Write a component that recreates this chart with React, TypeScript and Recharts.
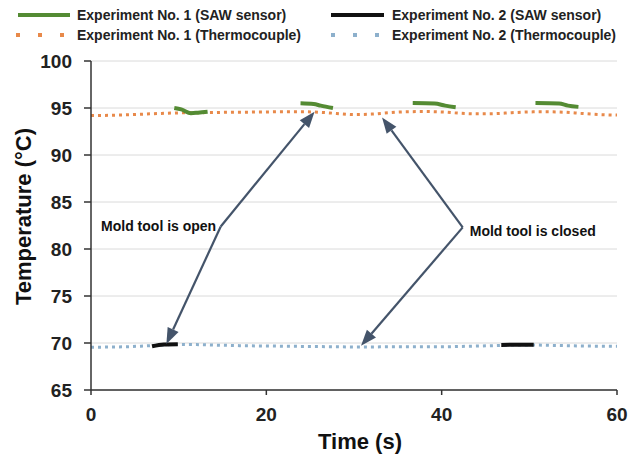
import React from 'react';
import { LineChart, Line, XAxis, YAxis, CartesianGrid, Legend, ReferenceLine, ReferenceDot } from 'recharts';

// ---- data ----
const tcTime = [0, 2, 4, 6, 8, 10, 12, 14, 16, 18, 20, 22, 24, 26, 28, 30, 32, 34, 36, 38, 40, 42, 44, 46, 48, 50, 52, 54, 56, 58, 60];
const tcExp1 = [94.2, 94.22, 94.28, 94.35, 94.42, 94.48, 94.5, 94.52, 94.55, 94.56, 94.58, 94.6, 94.6, 94.55, 94.42, 94.3, 94.35, 94.5, 94.6, 94.62, 94.58, 94.45, 94.38, 94.4, 94.5, 94.58, 94.6, 94.55, 94.42, 94.3, 94.25];
const tcExp2 = [69.55, 69.57, 69.6, 69.68, 69.78, 69.85, 69.83, 69.78, 69.74, 69.7, 69.68, 69.66, 69.64, 69.62, 69.6, 69.58, 69.58, 69.6, 69.6, 69.6, 69.6, 69.63, 69.67, 69.72, 69.78, 69.8, 69.76, 69.72, 69.68, 69.66, 69.65];

const sawExp1Time = [9.5, 10.3, 11.4, 12.2, 13.3, 18, 23.9, 25.4, 26.2, 27.6, 32, 36.7, 39.2, 40.4, 41.6, 46, 50.7, 53.4, 54.4, 55.6];
const sawExp1Temp = [95.0, 94.85, 94.45, 94.5, 94.6, null, 95.5, 95.42, 95.25, 95.0, null, 95.52, 95.48, 95.25, 95.08, null, 95.52, 95.48, 95.25, 95.12];

const sawExp2Time = [6.96, 8.3, 9.9, 28, 46.8, 50.5];
const sawExp2Temp = [69.65, 69.85, 69.88, null, 69.8, 69.82];

const xTicks = [0, 20, 40, 60];
const yTicks = [65, 70, 75, 80, 85, 90, 95, 100];

const seriesNames = [
  'Experiment No. 1 (SAW sensor)',
  'Experiment No. 2 (SAW sensor)',
  'Experiment No. 1 (Thermocouple)',
  'Experiment No. 2 (Thermocouple)',
];

// annotation arrows: [fromT, fromTemp, toT, toTemp]
const arrowFromT = [14.8, 14.8, 42.4, 42.4];
const arrowFromV = [82.4, 82.4, 82.3, 82.3];
const arrowToT = [25.5, 8.6, 33.2, 30.8];
const arrowToV = [94.6, 69.9, 94.0, 69.7];

const noteTexts = ['Mold tool is open', 'Mold tool is closed'];
const noteT = [1.15, 43.2];
const noteV = [82.4, 81.9];

// ---- build tables ----
const tc1Data = tcTime.map((t, i) => ({ t, v: tcExp1[i] }));
const tc2Data = tcTime.map((t, i) => ({ t, v: tcExp2[i] }));
const saw1Data = sawExp1Time.map((t, i) => ({ t, v: sawExp1Temp[i] }));
const saw2Data = sawExp2Time.map((t, i) => ({ t, v: sawExp2Temp[i] }));

const GREEN = '#548B33';
const BLACK = '#111111';
const ORANGE = '#E8894A';
const BLUE = '#8DB0CC';
const ARROW = '#44546A';
const FONT = '"Liberation Sans", Arial, sans-serif';

const ArrowShape = (props: any) => {
  const { x1, y1, x2, y2 } = props;
  if ([x1, y1, x2, y2].some((n) => n === undefined || isNaN(n))) return null;
  const ang = Math.atan2(y2 - y1, x2 - x1);
  const len = 16;
  const half = 6;
  const bx = x2 - len * Math.cos(ang);
  const by = y2 - len * Math.sin(ang);
  const px = -Math.sin(ang) * half;
  const py = Math.cos(ang) * half;
  return (
    <g>
      <line x1={x1} y1={y1} x2={bx} y2={by} stroke={ARROW} strokeWidth={2.2} />
      <polygon points={`${x2},${y2} ${bx + px},${by + py} ${bx - px},${by - py}`} fill={ARROW} />
    </g>
  );
};

const NoteShape = (text: string) => (props: any) => (
  <text x={props.cx} y={props.cy} dy={5} fontFamily={FONT} fontSize={14} fontWeight="bold" fill="#111">
    {text}
  </text>
);

const LegendContent = () => (
  <svg width={629} height={50}>
    <line x1={18} y1={15} x2={70} y2={15} stroke={GREEN} strokeWidth={4} />
    <text x={77} y={20} fontFamily={FONT} fontSize={14} fontWeight="bold" fill="#222">{seriesNames[0]}</text>
    <line x1={331} y1={15} x2={384} y2={15} stroke={BLACK} strokeWidth={4} />
    <text x={392} y={20} fontFamily={FONT} fontSize={14} fontWeight="bold" fill="#222">{seriesNames[1]}</text>
    <line x1={16} y1={35} x2={66} y2={35} stroke={ORANGE} strokeWidth={4} strokeDasharray="4 18" />
    <text x={77} y={40} fontFamily={FONT} fontSize={14} fontWeight="bold" fill="#222">{seriesNames[2]}</text>
    <line x1={331} y1={35} x2={381} y2={35} stroke={BLUE} strokeWidth={4} strokeDasharray="4 18" />
    <text x={392} y={40} fontFamily={FONT} fontSize={14} fontWeight="bold" fill="#222">{seriesNames[3]}</text>
  </svg>
);

const YLabel = (props: any) => {
  const vb = props.viewBox || {};
  const cx = 23;
  const cy = vb.y + vb.height / 2 - 9;
  return (
    <text x={cx} y={cy} transform={`rotate(-90 ${cx} ${cy})`} textAnchor="middle" dominantBaseline="central"
      fontFamily={FONT} fontSize={22} fontWeight="bold" fill="#111">
      Temperature (°C)
    </text>
  );
};

const XLabel = (props: any) => {
  const vb = props.viewBox || {};
  const cx = vb.x + vb.width / 2 + 6;
  return (
    <text x={cx} y={vb.y + 59} textAnchor="middle" fontFamily={FONT} fontSize={22} fontWeight="bold" fill="#111">
      Time (s)
    </text>
  );
};

export default function App() {
  return (
    <div style={{ position: 'absolute', left: 0, top: 0, width: 629, height: 465, background: '#fff' }}>
      <LineChart width={629} height={465} margin={{ top: 61, right: 12, left: 0, bottom: 0 }}>
        <CartesianGrid vertical={false} stroke="#DADADA" strokeWidth={1} />
        <XAxis
          type="number"
          dataKey="t"
          domain={[0, 60]}
          ticks={xTicks}
          allowDuplicatedCategory={false}
          height={75}
          tickSize={5}
          tickMargin={13}
          stroke="#333"
          strokeWidth={1.5}
          tick={{ fontFamily: FONT, fontSize: 19, fontWeight: 'bold', fill: '#222' }}
          label={<XLabel />}
        />
        <YAxis
          type="number"
          domain={[65, 100]}
          ticks={yTicks}
          width={91}
          tickSize={7}
          tickMargin={12}
          stroke="#333"
          strokeWidth={1.5}
          tick={{ fontFamily: FONT, fontSize: 19, fontWeight: 'bold', fill: '#222' }}
          label={<YLabel />}
        />
        <Legend verticalAlign="middle" layout="horizontal" wrapperStyle={{ top: 0, left: 0, width: 629, height: 50 }} content={<LegendContent />} />
        <Line data={tc1Data} dataKey="v" name={seriesNames[2]} type="monotone" stroke={ORANGE} strokeWidth={3} strokeDasharray="3 4" dot={false} isAnimationActive={false} />
        <Line data={tc2Data} dataKey="v" name={seriesNames[3]} type="monotone" stroke={BLUE} strokeWidth={3} strokeDasharray="3 4" dot={false} isAnimationActive={false} />
        <Line data={saw1Data} dataKey="v" name={seriesNames[0]} type="monotone" stroke={GREEN} strokeWidth={4} dot={false} connectNulls={false} isAnimationActive={false} />
        <Line data={saw2Data} dataKey="v" name={seriesNames[1]} type="monotone" stroke={BLACK} strokeWidth={4} dot={false} connectNulls={false} isAnimationActive={false} />
        {arrowFromT.map((ft, i) => (
          <ReferenceLine
            key={'a' + i}
            segment={[{ x: ft, y: arrowFromV[i] }, { x: arrowToT[i], y: arrowToV[i] }]}
            shape={<ArrowShape />}
            ifOverflow="visible"
          />
        ))}
        {noteTexts.map((txt, i) => (
          <ReferenceDot key={'n' + i} x={noteT[i]} y={noteV[i]} r={0} shape={NoteShape(txt)} ifOverflow="visible" />
        ))}
      </LineChart>
    </div>
  );
}
